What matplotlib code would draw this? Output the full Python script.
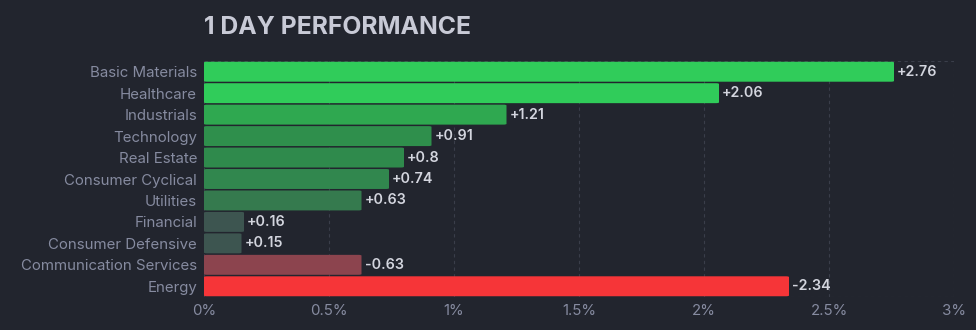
import matplotlib
matplotlib.use("Agg")
import matplotlib.pyplot as plt
from matplotlib.patches import FancyBboxPatch
from matplotlib.ticker import FuncFormatter, MultipleLocator

plt.rcParams['font.family'] = ['Inter', 'DejaVu Sans']

sectors = ["Basic Materials", "Healthcare", "Industrials", "Technology", "Real Estate",
           "Consumer Cyclical", "Utilities", "Financial", "Consumer Defensive",
           "Communication Services", "Energy"]
changes = [2.76, 2.06, 1.21, 0.91, 0.80, 0.74, 0.63, 0.16, 0.15, -0.63, -2.34]
labels = ["+2.76", "+2.06", "+1.21", "+0.91", "+0.8", "+0.74", "+0.63", "+0.16", "+0.15", "-0.63", "-2.34"]
colors = ["#30cc5a", "#30cc5a", "#2fa850", "#2f8f4c", "#2f8a4c", "#31874e", "#357a4e",
          "#3d5550", "#3d5550", "#8c444e", "#f63538"]

BG = "#22252e"
fig = plt.figure(figsize=(9.76, 3.30), dpi=100, facecolor=BG)
ax = fig.add_axes([204/976, 1-297/330, 750/976, 236/330], facecolor=BG)

ypos = list(range(len(sectors)))
bars = ax.barh(ypos, [abs(c) for c in changes], height=0.93, color=colors, zorder=3)
ax.set_xlim(0, 3)
ax.set_ylim(len(sectors) - 0.5, -0.5)

# replace with slightly rounded bars
for b, col in zip(bars, colors):
    b.set_visible(False)
    x0, y0 = b.get_x(), b.get_y()
    w, h = b.get_width(), b.get_height()
    p = FancyBboxPatch((x0, y0), w, h, boxstyle="round,pad=0,rounding_size=0.012",
                       mutation_aspect=3.0, facecolor=col, edgecolor='none', zorder=3)
    ax.add_patch(p)

for y, c, lab in zip(ypos, changes, labels):
    ax.text(abs(c) + 0.012, y, lab, va='center', ha='left', color="#d3d5de",
            fontsize=10.3, fontweight='semibold', zorder=4)

ax.set_yticks(ypos)
ax.set_yticklabels(sectors)
ax.xaxis.set_major_locator(MultipleLocator(0.5))
ax.xaxis.set_major_formatter(FuncFormatter(lambda v, p: f"{v:g}%"))
ax.tick_params(axis='both', length=0, colors="#868ba0", labelsize=10.8)
ax.tick_params(axis='y', pad=5)
ax.tick_params(axis='x', pad=5)

ax.grid(axis='x', color="#3a3e4a", linestyle=(0, (3, 3)), linewidth=0.8, zorder=0)
for s in ['left', 'right', 'top', 'bottom']:
    ax.spines[s].set_visible(False)
for yy in (-0.5, len(sectors) - 0.5):
    ax.axhline(yy, color="#3a3e4a", linestyle=(0, (3, 3)), linewidth=0.8, zorder=0)

fig.text(204/976, 1-27/330, "1 DAY PERFORMANCE", color="#c8cad6", fontsize=17.8,
         fontweight='bold', va='center', ha='left')

fig.savefig("out.png", dpi=100, facecolor=BG)
